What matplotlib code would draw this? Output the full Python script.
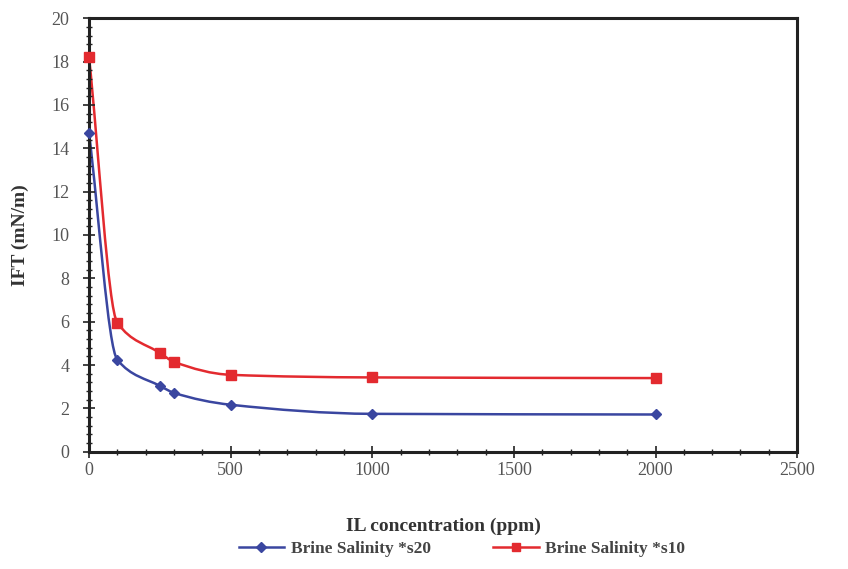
#!/usr/bin/env python3
"""IFT vs IL concentration for two brine salinities."""

import matplotlib
matplotlib.use("Agg")
import matplotlib.pyplot as plt
import numpy as np
from matplotlib.path import Path
from matplotlib.patches import PathPatch
from matplotlib.lines import Line2D
from matplotlib.ticker import MultipleLocator

# data
conc_ppm = [0, 100, 250, 300, 500, 1000, 2000]
ift_s20 = [14.7, 4.24, 3.04, 2.72, 2.17, 1.75, 1.72]
ift_s10 = [18.2, 5.95, 4.56, 4.15, 3.55, 3.43, 3.40]

LABEL_S20 = "Brine Salinity *s20"
LABEL_S10 = "Brine Salinity *s10"
BLUE = "#3a46a0"
RED = "#e32a2f"

plt.rcParams["font.family"] = ["Liberation Serif", "DejaVu Serif"]


def smooth_path(x, y):
    """Smoothed line through the points: monotone cubic as Bezier segments."""
    x = np.asarray(x, dtype=float)
    y = np.asarray(y, dtype=float)
    h = np.diff(x)
    d = np.diff(y) / h
    m = np.zeros_like(y)
    m[0], m[-1] = d[0], d[-1]
    for i in range(1, len(x) - 1):
        if d[i - 1] * d[i] <= 0:
            m[i] = 0.0
        else:
            w1 = 2 * h[i] + h[i - 1]
            w2 = h[i] + 2 * h[i - 1]
            m[i] = (w1 + w2) / (w1 / d[i - 1] + w2 / d[i])
    verts = [(x[0], y[0])]
    codes = [Path.MOVETO]
    for i in range(len(x) - 1):
        verts += [
            (x[i] + h[i] / 3, y[i] + m[i] * h[i] / 3),
            (x[i + 1] - h[i] / 3, y[i + 1] - m[i + 1] * h[i] / 3),
            (x[i + 1], y[i + 1]),
        ]
        codes += [Path.CURVE4] * 3
    return Path(verts, codes)


fig = plt.figure(figsize=(8.48, 5.69), dpi=100)
ax = fig.add_axes([0.105, 0.206, 0.835, 0.762])

for y, color, marker, ms in [(ift_s20, BLUE, "D", 5.5), (ift_s10, RED, "s", 7)]:
    patch = PathPatch(smooth_path(conc_ppm, y), facecolor="none",
                      edgecolor=color, linewidth=1.8, transform=ax.transData)
    ax.add_patch(patch)
    ax.plot(conc_ppm, y, linestyle="none", marker=marker, markersize=ms,
            color=color, zorder=3, clip_on=False)

ax.set_xlim(0, 2500)
ax.set_ylim(0, 20)
ax.xaxis.set_major_locator(MultipleLocator(500))
ax.xaxis.set_minor_locator(MultipleLocator(100))
ax.yaxis.set_major_locator(MultipleLocator(2))
ax.yaxis.set_minor_locator(MultipleLocator(0.4))
ax.tick_params(axis="both", which="major", direction="inout", length=8,
               width=1.2, labelsize=13, colors="#222222", labelcolor="#555555")
ax.tick_params(axis="both", which="minor", direction="inout", length=5,
               width=1.0, colors="#222222")
ax.tick_params(axis="x", pad=3)
ax.tick_params(axis="y", pad=10)
for sp in ax.spines.values():
    sp.set_linewidth(2.2)
    sp.set_color("#222222")

ax.set_xlabel("IL concentration (ppm)", fontsize=14, fontweight="bold",
              color="#333333", labelpad=28)
ax.set_ylabel("IFT (mN/m)", fontsize=14, fontweight="bold",
              color="#333333", labelpad=16)

handles = [
    Line2D([], [], color=BLUE, marker="D", markersize=5, linewidth=1.8),
    Line2D([], [], color=RED, marker="s", markersize=6, linewidth=1.8),
]
leg = fig.legend(handles, [LABEL_S20, LABEL_S10], loc="center",
                 bbox_to_anchor=(0.545, 0.035), ncol=2, frameon=False,
                 handlelength=2.6, handletextpad=0.4, columnspacing=3.6,
                 prop={"weight": "bold", "size": 12.5})
for t in leg.get_texts():
    t.set_color("#444444")

fig.savefig("out.png", dpi=100)
